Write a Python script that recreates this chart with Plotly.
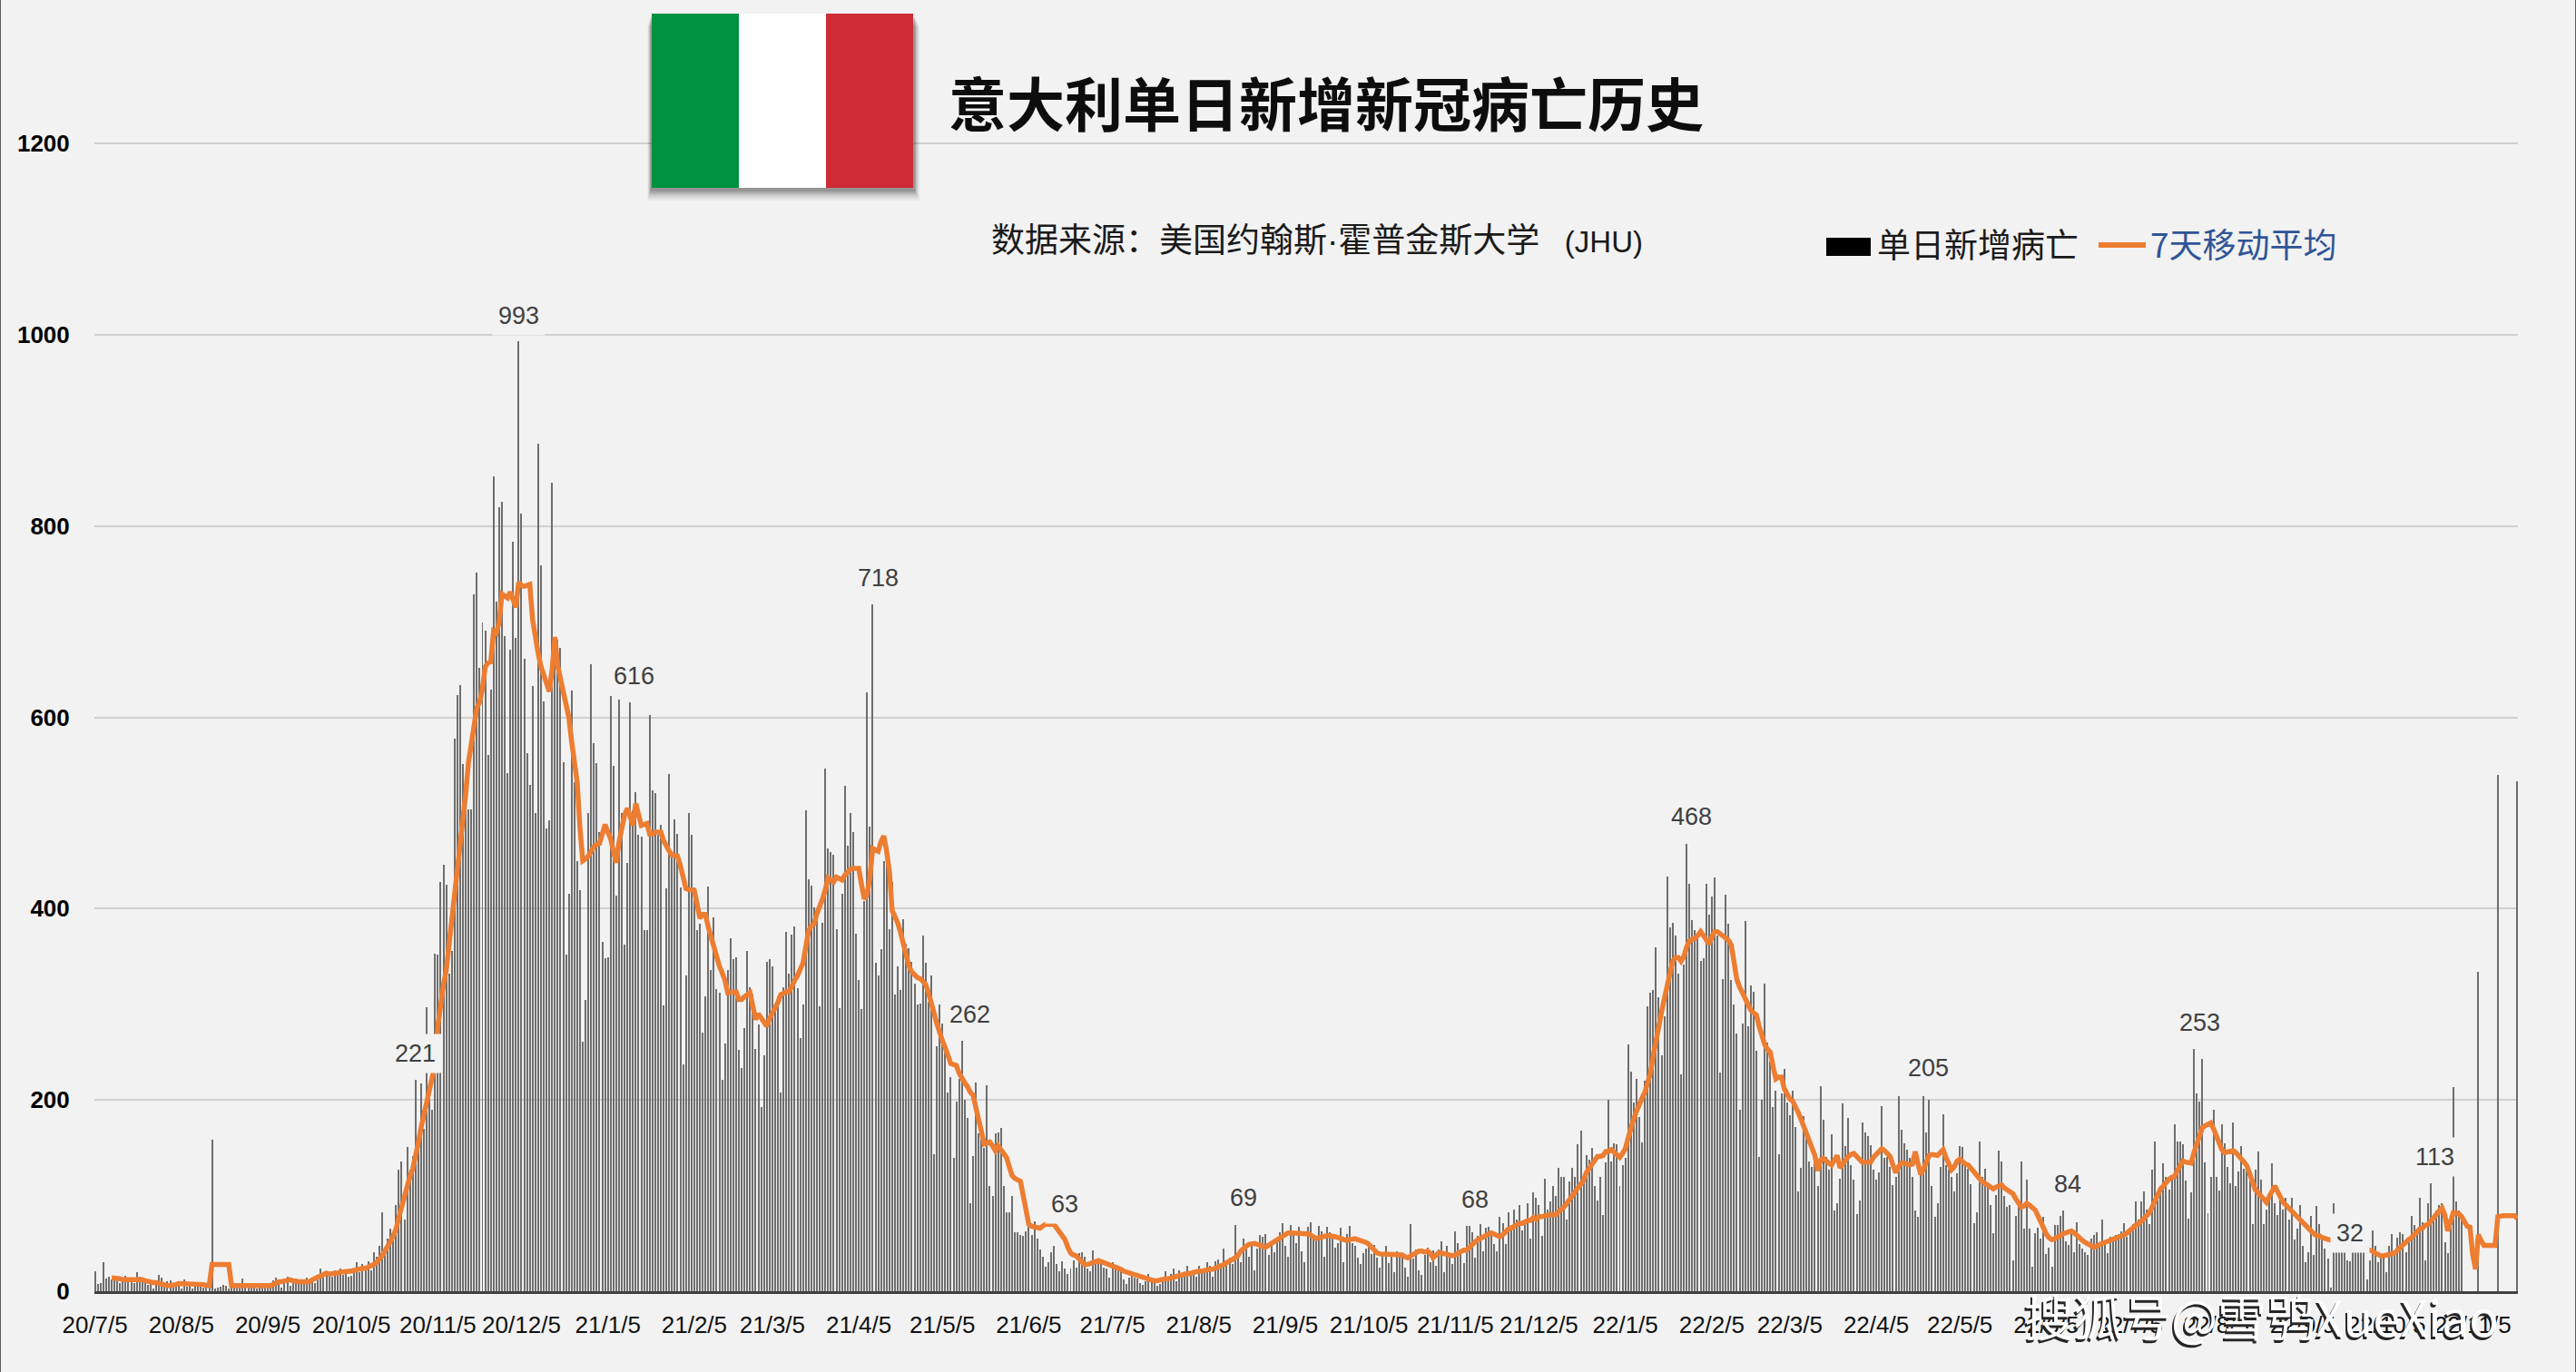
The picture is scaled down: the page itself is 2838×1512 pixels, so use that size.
import pandas as pd
import plotly.graph_objects as go

# ---------- data ----------
start_date = "2020-07-05"
title_text = "意大利单日新增新冠病亡历史"
LAT = "font-family:'Liberation Sans'"
source_text = f"数据来源：美国约翰斯<span style=\"{LAT}\">·</span>霍普金斯大学<span style=\"{LAT};font-size:33px\">\u00a0\u00a0\u00a0(JHU)</span>"
bar_name = "单日新增病亡"
line_name = "7天移动平均"
watermark_text = "搜狐号@雪鸮XueXiao"

deaths_2020a = [21,8,9,30,13,15,12,14,11,9,13,16,10,13,9,20,15,11,13,7,9,3,11,17,14,5,10,11,8,6,6,
 3,12,5,6,3,5,6,8,4,7,9,158,3,4,5,7,6,3,9,5,4,7,13,6,5,7,6,3,5,9,6,
 5,7,11,14,8,4,9,15,6,10,13,12,9,10,14,11,13,9,12,24,14,17,20,15,22,19,24,17,21,15,
 16,22,30,20,28,25,31,22,41,36,47,83,45,55,65,62,90,127,136,75,151,127,141,221,155,217,170,297,210,190,353,
 352,428,446,425,332,356,578,623,634,551,530,504,504,729,751,652,699,691,561,629,852,721,820,825,685,542,671,784,683,993,
 813,661,563,529,633,500,886,759,617,484,492,845,681,681,673,553,352,416,628,532,450,419,261,305,500,656,573,552,480,365,348]
deaths_2021a = [349,622,549,414,619,500,362,448,616,503,522,477,475,378,378,602,524,521,477,488,299,421,541,457,493,478,422,237,330,500,477,
 422,378,384,270,308,423,336,391,316,312,221,259,336,369,347,349,252,233,275,356,318,310,253,279,193,247,344,347,
 340,299,308,208,318,376,332,373,381,317,265,300,503,431,424,401,400,298,385,546,463,459,456,379,296,416,528,466,500,480,374,
 325,295,408,626,486,718,343,330,358,450,446,379,428,310,340,315,389,363,359,344,322,300,301,372,343,303,330,143,256,300,
 280,258,208,224,139,198,222,262,200,181,92,141,218,165,160,150,215,110,100,165,166,171,110,83,83,100,62,62,59,58,63,
 67,59,73,55,44,36,26,30,41,47,28,21,31,24,18,24,32,25,40,41,36,24,21,43,33,31,28,25,24,14]
deaths_2021b = [30,26,22,21,12,8,14,20,14,13,9,7,10,18,12,10,6,8,12,21,14,18,24,10,22,19,19,27,18,22,15,
 27,21,24,30,27,15,31,33,27,45,30,35,28,69,40,30,55,48,36,51,22,45,59,57,60,38,52,41,56,62,71,
 47,36,69,63,50,67,42,30,67,72,56,54,68,63,36,67,62,55,46,50,66,30,60,68,50,47,35,28,40,45,
 52,39,48,35,25,38,47,29,37,20,42,40,39,25,15,70,34,44,22,17,38,46,30,43,27,44,52,20,47,36,28,
 63,50,40,29,68,68,62,35,58,70,42,66,67,59,49,42,78,71,49,83,69,85,75,90,64,72,92,55,103,98,
 90,58,118,85,94,110,100,129,120,120,75,115,129,120,154,168,120,142,138,150,110,95,120,80,135,200,136,155,154,110,132]
deaths_2022 = [139,258,230,197,222,182,156,220,298,312,315,360,307,247,287,434,380,385,372,332,227,342,468,426,388,378,370,345,348,426,394,
 413,433,372,229,326,415,384,325,300,269,190,280,387,277,320,313,251,140,200,322,260,240,193,210,143,207,232,197,
 184,210,172,104,129,183,165,136,130,146,110,214,179,140,127,164,84,92,118,196,152,181,132,117,81,95,176,166,162,153,127,
 117,124,194,139,140,130,111,120,204,169,155,148,139,120,84,78,122,204,166,200,110,78,92,130,185,132,127,120,104,123,
 152,151,132,128,112,71,83,157,120,128,110,90,61,101,147,136,100,88,90,32,79,95,136,65,117,65,26,61,66,55,78,
 39,46,26,69,69,79,84,52,48,63,41,72,49,45,41,38,55,59,62,48,75,52,40,57,55,59,60,63,71,57,
 62,70,94,75,94,104,85,70,127,157,104,110,134,120,106,117,175,157,157,154,116,76,103,253,207,198,243,135,82,120,190,
 120,105,175,155,130,113,176,110,125,152,128,130,115,70,127,146,117,70,85,100,134,92,80,101,85,98,75,98,54,65,90,
 47,30,41,79,38,89,70,55,45,34,4,92,50,46,48,42,32,31,45,50,41,44,46,12,32,64,47,30,36,36,
 20,47,60,38,56,62,60,41,51,79,69,63,98,72,32,92,113,80,84,90,92,51,40,80,213,94,84,76,0,0,0,
 0,0,334,0,0,0,0,0,0,540,0,0,0,0,0,0,533]
deaths = deaths_2020a + deaths_2021a + deaths_2021b + deaths_2022

avg_2020 = [None,None,None,None,None,None,
 14,14,13,13,12,12,12,13,13,13,13,12,11,10,10,9,9,8,8,7,6,6,6,7,8,
 8,8,8,7,7,7,7,7,7,6,6,28,28,28,28,28,28,28,6,6,6,6,6,6,6,6,6,6,6,6,6,
 5,6,7,9,10,10,11,12,12,11,10,10,10,10,10,10,12,14,15,16,18,19,18,18,19,19,20,20,20,21,
 21,22,23,24,24,24,25,26,28,30,33,37,42,46,52,58,65,77,88,100,112,120,128,140,155,171,185,197,212,225,237,
 277,300,320,335,360,386,410,440,470,488,520,553,575,595,610,616,630,653,657,658,690,688,700,729,727,725,731,722,715,741,
 738,737,738,739,702,680,667,653,645,636,627,650,684,654,640,629,615,600,575,553,532,484,450,452,455,460,465,467,468,478,488]
avg_2021a = [480,473,460,448,470,488,498,505,495,487,510,498,487,488,489,478,478,480,480,480,471,465,460,456,455,455,445,430,421,420,419,
 419,405,390,394,394,381,370,359,350,340,333,325,312,312,312,313,305,305,308,310,312,298,284,290,285,280,277,285,
 290,296,302,310,312,313,313,320,325,330,336,343,360,377,382,384,395,402,410,420,432,430,428,433,432,430,435,439,441,442,442,
 442,425,410,415,433,463,462,460,470,476,460,439,398,392,385,375,362,348,340,334,330,328,327,324,321,312,303,291,280,270,
 262,255,245,238,237,236,228,222,218,214,208,205,192,181,168,154,155,156,152,147,152,148,145,140,130,121,118,116,115,100,85,
 70,68,67,66,66,68,70,70,70,70,66,62,57,54,46,40,38,37,34,31,28,28,29,30,31,32,31,30,28,27]
avg_2021b = [26,25,24,23,21,20,19,18,17,16,16,15,14,13,12,11,11,12,12,13,13,14,15,16,17,17,18,18,19,20,20,
 21,21,22,22,23,23,24,25,26,28,30,31,33,35,37,42,45,47,49,50,50,49,48,46,46,48,50,52,54,56,58,
 60,61,61,61,60,61,61,61,60,59,57,55,56,57,58,58,58,58,57,56,55,54,53,54,55,55,54,53,53,51,
 49,46,43,40,39,39,39,38,39,39,39,39,38,36,35,37,39,41,42,42,41,42,40,35,37,40,40,39,38,37,37,
 38,40,41,43,43,46,49,52,54,55,57,59,60,61,60,58,57,59,62,65,66,68,70,71,71,73,74,74,77,75,
 78,78,79,79,80,80,80,83,85,88,92,96,100,104,108,112,116,124,128,132,137,141,141,142,146,146,148,145,142,140,144]
avg_2022 = [149,160,172,180,188,196,202,208,217,228,246,262,282,292,306,320,335,345,349,349,345,350,360,366,368,369,372,376,372,368,363,
 370,376,376,374,372,370,367,362,345,326,318,312,307,300,294,291,289,277,265,258,253,250,235,222,224,224,212,205,
 201,199,194,187,180,172,164,155,147,142,126,137,139,136,134,132,136,142,129,133,138,141,143,144,141,138,135,135,135,135,140,
 143,147,149,147,144,141,132,124,130,134,134,133,132,133,146,133,122,128,135,142,143,142,142,145,148,140,132,127,130,136,
 138,135,133,132,128,124,120,118,115,113,110,108,107,109,110,111,108,106,104,102,97,92,88,89,92,90,87,85,79,72,66,
 60,56,54,55,56,58,60,61,62,63,61,58,55,53,51,49,47,46,47,49,50,51,52,53,54,55,56,57,59,61,
 63,66,69,70,73,76,79,82,88,95,102,107,110,114,117,119,120,126,131,136,135,134,134,145,155,165,171,173,174,176,170,
 162,155,148,145,146,147,147,145,142,139,135,131,122,113,106,103,100,96,93,99,105,110,104,98,93,90,87,83,80,77,74,
 71,68,65,62,60,58,58,56,55,54,53,52,52,51,50,50,49,49,48,47,47,46,46,45,44,42,40,38,37,
 37,38,38,40,40,43,46,49,52,54,56,59,61,65,66,69,70,74,78,81,84,87,80,63,72,82,82,81,78,72,68,
 67,38,23,59,53,48,48,48,48,48,78,79,79,79,79,79,79,76]
moving_avg = avg_2020 + avg_2021a + avg_2021b + avg_2022
assert len(deaths) == len(moving_avg), (len(deaths), len(moving_avg))

tick_dates = ["2020-07-05","2020-08-05","2020-09-05","2020-10-05","2020-11-05","2020-12-05",
 "2021-01-05","2021-02-05","2021-03-05","2021-04-05","2021-05-05","2021-06-05","2021-07-05","2021-08-05","2021-09-05","2021-10-05","2021-11-05","2021-12-05",
 "2022-01-05","2022-02-05","2022-03-05","2022-04-05","2022-05-05","2022-06-05","2022-07-05","2022-08-05","2022-09-05","2022-10-05","2022-11-05"]
tick_labels = ["20/7/5","20/8/5","20/9/5","20/10/5","20/11/5","20/12/5",
 "21/1/5","21/2/5","21/3/5","21/4/5","21/5/5","21/6/5","21/7/5","21/8/5","21/9/5","21/10/5","21/11/5","21/12/5",
 "22/1/5","22/2/5","22/3/5","22/4/5","22/5/5","22/6/5","22/7/5","22/8/5","22/9/5","22/10/5","22/11/5"]
y_ticks = [0,200,400,600,800,1000,1200]

peak_labels = ["993","718","616","221","262","63","69","68","468","205","84","253","32","113","533"]
peak_label_day = [152,281,193.5,115,313.7,348,412,495,572.6,657.6,707.6,755,809,839.5,870]
peak_label_val = [1020,746,643,249,289,91,98,96,496,233,112,281,61,140,560]

# ---------- layout constants ----------
W, H = 2838, 1512
L, R, T, B = 104, 64, 0, 89
SANS = "Liberation Sans, Arial"
CJK = "Noto Sans CJK SC"
BG = "#f2f2f2"

def px_x(p): return (p - L) / (W - L - R)
def px_y(p): return (H - B - p) / (H - T - B)

days = list(range(len(deaths)))
base = pd.Timestamp(start_date)
tick_vals = [(pd.Timestamp(d) - base).days for d in tick_dates]

fig = go.Figure()
fig.add_bar(x=days, y=deaths, name=bar_name, width=0.65, marker=dict(color="rgba(105,105,105,0.97)", line=dict(width=0)), showlegend=False)
fig.add_scatter(x=days, y=moving_avg, mode="lines", name=line_name, line=dict(color="#ed7d31", width=5.5), showlegend=False, connectgaps=False)

def rect(x0, y0, x1, y1, color):
    return dict(type="rect", xref="paper", yref="paper", x0=px_x(x0), x1=px_x(x1), y0=px_y(y0), y1=px_y(y1),
                fillcolor=color, line=dict(width=0), layer="above")

shapes = []
for off, a in [(14,0.04),(12,0.05),(10,0.06),(8,0.08),(6,0.10),(4,0.12)]:
    shapes.append(rect(718-off/3, 15+off, 1006+off/2, 207+off, f"rgba(0,0,0,{a})"))
shapes += [rect(718,15,814,207,"#00923f"), rect(814,15,910,207,"#ffffff"), rect(910,15,1006,207,"#ce2b37")]
# legend keys
shapes.append(rect(2012,262,2061,282,"#000000"))
shapes.append(dict(type="line", xref="paper", yref="paper", x0=px_x(2312), x1=px_x(2364), y0=px_y(270), y1=px_y(270),
                   line=dict(color="#ed7d31", width=6), layer="above"))
# page edges
for ex in (0.5, W-0.5):
    shapes.append(dict(type="line", xref="paper", yref="paper", x0=px_x(ex), x1=px_x(ex), y0=px_y(0), y1=px_y(H),
                       line=dict(color="#5a5a5a", width=1), layer="above"))

ann = []
for t, d, v in zip(peak_labels, peak_label_day, peak_label_val):
    ann.append(dict(text=t, x=d, y=v, xref="x", yref="y", showarrow=False, xanchor="center", yanchor="middle",
                    font=dict(family=SANS, size=27, color="#404040"), bgcolor=BG, borderpad=6))

def txt(text, x, y, size, color="#000000", anchor="left", bold=False, family=CJK):
    return dict(text=text, x=px_x(x), y=px_y(y), xref="paper", yref="paper", showarrow=False, xanchor=anchor, yanchor="middle",
                font=dict(family=family, size=size, color=color, weight="bold" if bold else "normal"))

ann.append(txt(title_text, 1043, 111, 64, "#0d0d0d", bold=True))
ann.append(txt(source_text, 1090, 262, 37, "#1a1a1a"))
ann.append(txt(bar_name, 2066, 268, 37, "#1a1a1a"))
ann.append(txt(line_name, 2367, 268, 37, "#2f5597"))
ann.append(txt(watermark_text, 2489, 1452, 54, "#262626", "center"))
ann.append(txt(watermark_text, 2491, 1450, 54, "#ffffff", "center"))

fig.update_layout(
    width=W, height=H, autosize=False, margin=dict(l=L, r=R, t=T, b=B, pad=0),
    paper_bgcolor=BG, plot_bgcolor=BG, bargap=0, showlegend=False,
    shapes=shapes, annotations=ann,
    font=dict(family=SANS, color="#000000"),
)
fig.update_xaxes(range=[-0.2, 869.2], tickmode="array", tickvals=tick_vals, ticktext=tick_labels, showgrid=False,
                 showline=True, linecolor="#404040", linewidth=3, ticks="outside", ticklen=12, tickcolor="rgba(0,0,0,0)",
                 tickfont=dict(family=SANS, size=26, color="#111111"), tickangle=0, zeroline=False)
fig.update_yaxes(range=[0, 1350], tickmode="array", tickvals=y_ticks, showgrid=True, gridcolor="#d0d0d0", gridwidth=2,
                 zeroline=False, ticks="outside", ticklen=21, tickcolor="rgba(0,0,0,0)", showline=False,
                 tickfont=dict(family=SANS, size=26, color="#000000", weight="bold"))

fig.write_html("out.html", config={"displayModeBar": False},
               post_script="document.body.style.margin='0';document.body.style.background='#f2f2f2';document.body.style.overflow='hidden';")
